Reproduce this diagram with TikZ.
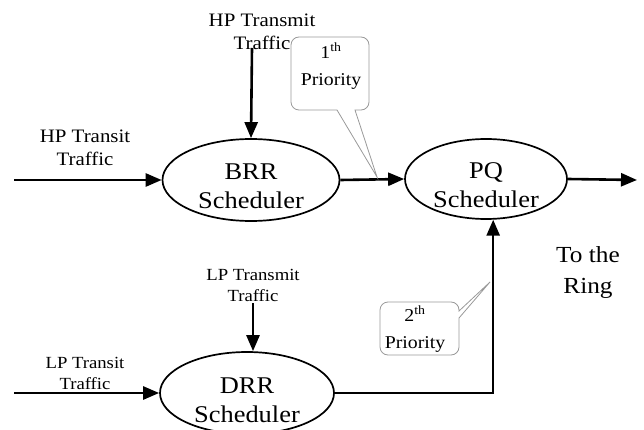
\documentclass[tikz,border=0pt]{standalone}
\usepackage{fontspec}
\setmainfont{Liberation Serif}[FakeStretch=1.1]
\usetikzlibrary{arrows.meta,shapes.geometric}
\begin{document}
\begin{tikzpicture}[x=1pt,y=-1pt,
  flow/.style={line width=2.6pt,-{Triangle[length=16pt,width=13pt]}},
  sched/.style={draw,ellipse,line width=1.7pt,inner sep=0pt},
  schedtext/.style={align=center,inner sep=0pt,font=\fontsize{24}{29}\selectfont},
  hplabel/.style={align=center,inner sep=0pt,font=\fontsize{19}{23}\selectfont},
  lplabel/.style={align=center,inner sep=0pt,font=\fontsize{17}{21}\selectfont},
  calltext/.style={align=center,inner sep=0pt,font=\fontsize{18}{27}\selectfont},
  bubble/.style={draw=black!40,line width=0.8pt}]
\useasboundingbox (0,0) rectangle (644,430);
\clip (0,0) rectangle (644,430);

% schedulers
\node[sched,minimum width=177pt,minimum height=82pt] (brr) at (251,180) {};
\node[sched,minimum width=162pt,minimum height=80pt] (pq)  at (486,179) {};
\node[sched,minimum width=174pt,minimum height=82pt] (drr) at (247,393) {};
\node[schedtext] (brrtext) at (251,186) {BRR\\Scheduler};
\node[schedtext] (pqtext)  at (486,185) {PQ\\Scheduler};
\node[schedtext] (drrtext) at (247,400) {DRR\\Scheduler};

% traffic labels
\node[hplabel] (hptx)   at (262,32)  {HP Transmit\\Traffic};
\node[hplabel] (hptr)   at (85,148)  {HP Transit\\Traffic};
\node[lplabel] (lptx)   at (253,285) {LP Transmit\\Traffic};
\node[lplabel] (lptr)   at (85,373)  {LP Transit\\Traffic};
\node[align=center,inner sep=0pt,font=\fontsize{23}{31}\selectfont] (ring) at (588,273) {To the\\Ring};

% free ends of the input / output flows
\coordinate (hptxend) at (252,48);
\coordinate (hptrend) at (14,180);
\coordinate (lptxend) at (253,303);
\coordinate (lptrend) at (14,393);
\coordinate (out)     at (637,180);

% flows
\draw[flow] (hptxend) -- (brr.north);
\draw[flow] (hptrend) -- (brr.west);
\draw[flow] (brr.east) -- (pq.west);
\draw[flow] (pq.east) -- (out);
\draw[flow] (lptxend) -- (lptx.south |- drr.north);
\draw[flow] (lptrend) -- (drr.west);
\draw[flow] (drr.east) -| (pq.-80);

% priority bubbles
\draw[bubble] (355,110) -- (377,177) -- (337,110)
  [rounded corners=8pt] -- (291,110) -- (291,37) -- (369,37) -- (369,110)
  [sharp corners] -- cycle;
\node[calltext] (p1) at (331,66) {1\textsuperscript{th}\\Priority};

\draw[bubble] (459,311) -- (490,282) -- (459,318)
  [rounded corners=8pt] -- (459,355) -- (380,355) -- (380,302) -- (459,302)
  [sharp corners] -- cycle;
\node[calltext] (p2) at (415,329) {2\textsuperscript{th}\\Priority};
\end{tikzpicture}
\end{document}
